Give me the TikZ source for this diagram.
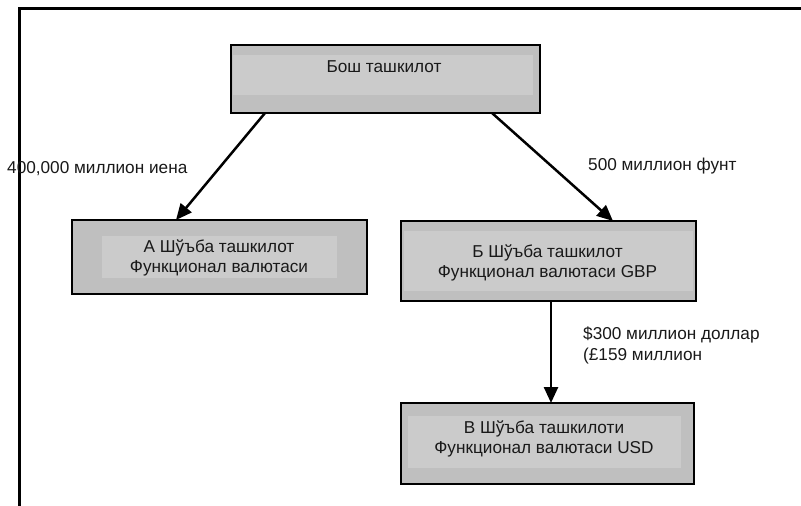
\documentclass[tikz,border=0pt]{standalone}
\usepackage{fontspec}
\setmainfont{Liberation Sans}
\usetikzlibrary{arrows.meta,calc}
\definecolor{boxouter}{HTML}{BFBFBF}
\definecolor{boxinner}{HTML}{CBCBCB}
\begin{document}
\begin{tikzpicture}[x=1pt,y=-1pt,
  orgbox/.style={draw=black,line width=2.8pt,fill=boxouter,inner sep=0pt,outer sep=0pt},
  innerfill/.style={fill=boxinner},
  txt/.style={font=\fontsize{17.2}{20}\selectfont,align=center,inner sep=0pt,text=black!90},
  lbl/.style={font=\fontsize{17.2}{21}\selectfont,align=left,inner sep=0pt,anchor=west,text=black!90},
  flow/.style={line width=2.5pt,-{Triangle[length=16pt,width=14pt]}}]
\useasboundingbox (0,0) rectangle (801,506);
\fill[white] (0,0) rectangle (801,506);
% frame
\draw[line width=2.2pt] (19.5,506) -- (19.5,8.5) -- (801,8.5);
% boxes
\node[orgbox,minimum width=309pt,minimum height=68pt] (top) at (385.5,79) {};
\fill[innerfill] (233,55) rectangle (533,95);
\draw[line width=2.8pt] (top.north west) rectangle (top.south east);
\node[txt] (toptxt) at (384,66.5) {Бош ташкилот};

\node[orgbox,minimum width=295pt,minimum height=74pt] (A) at (219.5,257) {};
\fill[innerfill] (102,236) rectangle (337,278);
\draw[line width=2.8pt] (A.north west) rectangle (A.south east);
\node[txt] (Atxt) at (219,258) {А Шўъба ташкилот\\Функционал валютаси};

\node[orgbox,minimum width=295pt,minimum height=80pt] (B) at (548.5,261) {};
\fill[innerfill] (404,231) rectangle (693,291);
\draw[line width=2.8pt] (B.north west) rectangle (B.south east);
\node[txt] (Btxt) at (547.5,263) {Б Шўъба ташкилот\\Функционал валютаси GBP};

\node[orgbox,minimum width=293pt,minimum height=81pt] (C) at (547.5,443.5) {};
\fill[innerfill] (408,416) rectangle (681,468);
\draw[line width=2.8pt] (C.north west) rectangle (C.south east);
\node[txt] (Ctxt) at (544,439) {В Шўъба ташкилоти\\Функционал валютаси USD};

% connectors
\draw[flow] ([xshift=34pt]top.south west) -- ([xshift=104pt]A.north west);
\draw[flow] ([xshift=261pt]top.south west) -- ([xshift=212pt]B.north west);
\draw[flow] ([xshift=2.5pt]B.south) -- ([xshift=2.5pt]B.south |- C.north);

% labels
\node[lbl] (l1) at (7,168.5) {400,000 миллион иена};
\node[lbl] (l2) at (588,166.5) {500 миллион фунт};
\node[lbl,anchor=north west] (l3) at (583,327) {\$300 миллион доллар\\(£159 миллион};
\end{tikzpicture}
\end{document}
